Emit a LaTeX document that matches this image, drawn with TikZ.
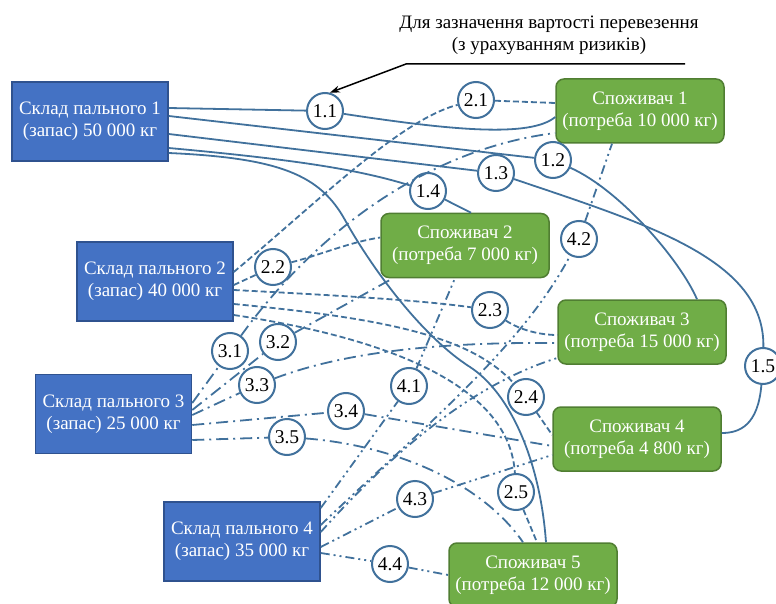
\documentclass[tikz,border=0pt]{standalone}
\usepackage{fontspec}
\setmainfont{Liberation Serif}
\usetikzlibrary{arrows.meta}
\definecolor{lnk}{HTML}{41719C}
\definecolor{depotfill}{HTML}{4472C4}
\definecolor{depotedge}{HTML}{2F528F}
\definecolor{userfill}{HTML}{70AD47}
\definecolor{useredge}{HTML}{507E32}
\begin{document}
\begin{tikzpicture}[x=1pt, y=-1pt,
    depot/.style={draw=depotedge, line width=1.5pt, fill=depotfill, text=white, minimum width=156pt, minimum height=79pt, inner sep=0pt, align=center, font=\fontsize{19}{22}\selectfont},
    user/.style={draw=useredge, line width=1.5pt, fill=userfill, text=white, rounded corners=8pt, minimum width=168pt, minimum height=64pt, inner sep=0pt, align=center, font=\fontsize{19}{22}\selectfont},
    num/.style={circle, draw=lnk, line width=2pt, fill=white, minimum size=36pt, inner sep=0pt, font=\fontsize{19.5}{20}\selectfont},
    r1/.style={draw=lnk, line width=1.8pt},
    r2/.style={r1, dash pattern=on 6pt off 3pt},
    r3/.style={r1, dash pattern=on 12pt off 5pt on 2pt off 5pt},
    r4/.style={r1, dash pattern=on 9pt off 4pt on 2pt off 4pt on 2pt off 4pt}]
    \useasboundingbox (0,0) rectangle (776,604);
    \node[align=center, font=\fontsize{19}{22}\selectfont] (note) at (549,35) {Для зазначення вартості перевезення\\(з урахуванням ризиків)};
    \node[depot] (s1) at (90,121.5) {Склад пального 1\\(запас) 50 000 кг};
    \node[depot] (s2) at (155,281.5) {Склад пального 2\\(запас) 40 000 кг};
    \node[depot] (s3) at (113.5,414) {Склад пального 3\\(запас) 25 000 кг};
    \node[depot] (s4) at (242,541.5) {Склад пального 4\\(запас) 35 000 кг};
    \node[user] (k1) at (640,111) {Споживач 1\\(потреба 10 000 кг)};
    \node[user] (k2) at (465,245.5) {Споживач 2\\(потреба 7 000 кг)};
    \node[user] (k3) at (642,332) {Споживач 3\\(потреба 15 000 кг)};
    \node[user] (k4) at (637,439) {Споживач 4\\(потреба 4 800 кг)};
    \node[user] (k5) at (533,575) {Споживач 5\\(потреба 12 000 кг)};
    \node[num] (c11) at (325,111) {1.1};
    \node[num] (c12) at (553,160) {1.2};
    \node[num] (c13) at (496,173) {1.3};
    \node[num] (c14) at (428,191) {1.4};
    \node[num] (c15) at (763,366) {1.5};
    \node[num] (c21) at (476,100) {2.1};
    \node[num] (c22) at (273,267) {2.2};
    \node[num] (c23) at (490,310) {2.3};
    \node[num] (c24) at (526,397) {2.4};
    \node[num] (c25) at (516,492) {2.5};
    \node[num] (c31) at (230,351) {3.1};
    \node[num] (c32) at (278,342) {3.2};
    \node[num] (c33) at (257,385) {3.3};
    \node[num] (c34) at (346,411) {3.4};
    \node[num] (c35) at (287,437) {3.5};
    \node[num] (c41) at (409,386) {4.1};
    \node[num] (c42) at (579,239) {4.2};
    \node[num] (c43) at (415,499) {4.3};
    \node[num] (c44) at (390,564) {4.4};
    \coordinate (nr) at (685,64);
    \coordinate (nl) at (406,64);
    \draw [line width=1.5pt, -{Stealth[length=10pt, width=7pt]}] (nr) -- (nl) -- (c11.75);
    \draw [r1] ([yshift=13.5pt]s1.east) -- (c11);
    \draw [r1] (c11) .. controls (450,130) and (530,138) .. ([yshift=-6pt]k1.west);
    \draw [r1] ([yshift=5.5pt]s1.east) -- (c12);
    \draw [r1] (c12) .. controls (620,190) and (680,260) .. ([xshift=55pt]k3.north);
    \draw [r1] ([yshift=-12.5pt]s1.east) -- (c13);
    \draw [r1] (c13) .. controls (650,225) and (765,260) .. (c15);
    \draw [r1] (c15) .. controls (758,425) and (740,433) .. ([yshift=6pt]k4.east);
    \draw [r1] ([yshift=-26.5pt]s1.east) .. controls (300,160) and (360,170) .. (c14);
    \draw [r1] (c14) -- ([xshift=6pt]k2.north);
    \draw [r1] ([yshift=-31.5pt]s1.east) .. controls (280,158) and (320,175) .. (345,220) .. controls (370,265) and (420,335) .. (470,367) .. controls (510,393) and (540,460) .. ([xshift=13pt]k5.north);
    \draw [r2] ([yshift=9.5pt]s2.east) .. controls (320,200) and (400,120) .. (c21);
    \draw [r2] (c21) -- ([yshift=8pt]k1.west);
    \draw [r2] ([yshift=-3.5pt]s2.east) -- (c22);
    \draw [r2] (c22) .. controls (320,255) and (350,242) .. ([yshift=8pt]k2.west);
    \draw [r2] ([yshift=-8.5pt]s2.east) .. controls (330,295) and (420,300) .. (c23);
    \draw [r2] (c23) .. controls (520,330) and (540,335) .. ([yshift=-3pt]k3.west);
    \draw [r2] ([yshift=-22.5pt]s2.east) .. controls (380,318) and (470,335) .. (c24);
    \draw [r2] (c24) -- ([yshift=4pt]k4.west);
    \draw [r2] ([yshift=-33.5pt]s2.east) .. controls (400,340) and (510,390) .. (c25);
    \draw [r2] (c25) -- ([xshift=4pt]k5.north);
    \draw [r3] ([yshift=11pt]s3.east) -- (c31);
    \draw [r3] (c31) .. controls (310,240) and (420,150) .. ([yshift=-22pt]k1.west);
    \draw [r3] ([yshift=4pt]s3.east) -- (c32);
    \draw [r3] (c32) -- ([xshift=-72pt]k2.south);
    \draw [r3] ([yshift=-1pt]s3.east) -- (c33);
    \draw [r3] (c33) .. controls (350,350) and (450,342) .. ([yshift=-11pt]k3.west);
    \draw [r3] ([yshift=-11pt]s3.east) -- (c34);
    \draw [r3] (c34) -- ([yshift=-7pt]k4.west);
    \draw [r3] ([yshift=-26pt]s3.east) -- (c35);
    \draw [r3] (c35) .. controls (390,445) and (480,480) .. ([xshift=-10pt]k5.north);
    \draw [r4] ([yshift=33.5pt]s4.east) -- (c41);
    \draw [r4] (c41) -- ([xshift=-10pt]k2.south);
    \draw [r4] ([yshift=16.5pt]s4.east) .. controls (420,430) and (520,350) .. (c42);
    \draw [r4] (c42) -- ([xshift=-28pt]k1.south);
    \draw [r4] ([yshift=9.5pt]s4.east) .. controls (390,455) and (470,385) .. ([yshift=-26pt]k3.west);
    \draw [r4] ([yshift=-5.5pt]s4.east) -- (c43);
    \draw [r4] (c43) -- ([yshift=-16pt]k4.west);
    \draw [r4] ([yshift=-11.5pt]s4.east) -- (c44);
    \draw [r4] (c44) -- (k5.west);
\end{tikzpicture}
\end{document}
